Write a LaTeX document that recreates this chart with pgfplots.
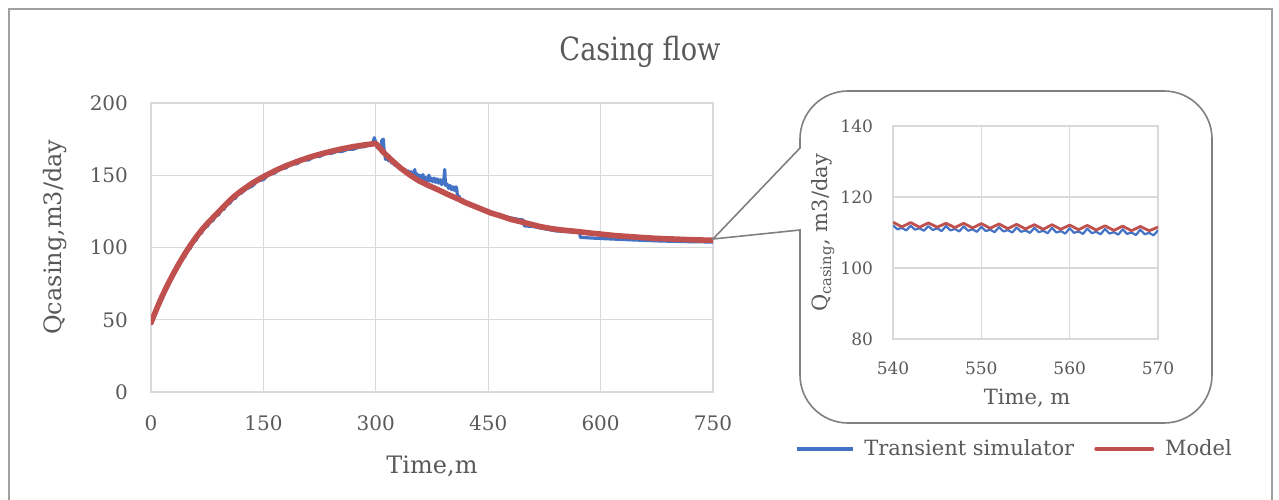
\documentclass[border=0pt]{standalone}
\usepackage{fontspec}
\setmainfont{DejaVu Serif}
\newfontfamily\titlefont[FakeStretch=0.85]{DejaVu Serif}
\usepackage{pgfplots}
\pgfplotsset{compat=1.18}
\definecolor{simblue}{RGB}{68,114,196}
\definecolor{modred}{RGB}{192,80,77}
\definecolor{txtgray}{RGB}{89,89,89}
\definecolor{gridgray}{RGB}{217,217,217}
\definecolor{callgray}{RGB}{128,128,128}
\definecolor{framegray}{RGB}{160,160,160}

\pgfplotstableread{
t v
0 47
4 52
7.5 56
11 61
15 64.5
19 70
22.5 73
26 78
30 80.5
34 86
37.5 87.5
41 92
45 93.5
49 98
52.5 99.5
56 104
60 105
64 109
67.5 110
71 114
75 114.5
79 118
82.5 118.5
86 122
90 122.5
94 126
97.5 126.5
101 130
105 130.5
109 133.5
112.5 134
116 137
120 137.5
127 140.5
135 142.5
142 146
150 147
157 150.5
165 151.5
172 154.5
180 155
187 158
195 158
202 160.5
210 160.5
218 163
225 163
233 165
240 165
248 166.5
255 166.5
263 168
270 168
278 169.5
285 169.8
291 171
296 172
298 176
300 172.5
302 169
304 170
306 168
308 174
310 175
311 168
313 161
315 162
317 160
319 161
321 158.5
323 159.5
325 157
327 158
329 155.5
331 156.5
333 154.5
335 155
337 152.5
339 154
341 152
343 153
345 150.5
347 152.5
349 150
351 151.5
352 154
353 149.5
355 151
357 148
359 150
361 147.5
363 150.5
364 146.5
366 148.5
368 146
370 149
371 150
372 146
374 148
376 145.5
378 148
380 145
382 147.5
384 144.5
386 147
388 143.5
390 146
391 148
392 154
393 143
395 144
397 141
399 143
401 140
403 142
405 139.5
407 142
408 141
409 134.5
411 135.5
413 133
415 133.5
418 131.5
420 131.5
425 129.5
430 128.5
440 126.5
450 125.5
460 123
470 121.5
480 120.5
490 119.5
497 119
498 115
510 114.5
525 113
540 111.5
555 111
572 110.5
573 107
590 106.5
610 106
640 105.3
680 104.5
720 104
750 103.8
}\simtable

\pgfplotstableread{
t v
0 48
7.5 57.5
15 66.5
22.5 74.5
30 82
37.5 89
45 95.5
52.5 101.5
60 107
67.5 112
75 116.5
82.5 120.5
90 124.5
97.5 128.5
105 132.5
112.5 136
120 139
135 144.5
150 149
165 153
180 156.5
195 159.5
210 162.2
225 164.5
240 166.5
255 168.3
270 169.8
285 171
300 172
310 166
320 161
333 155
346 150
358 146
370 143
383 140
395 137
408 134
420 131
439 127
453 124
466 122
480 119.5
500 117
519 114.5
535 113
550 112
570 111
586 110
605 109
620 108.2
640 107.5
653 107
675 106.3
700 105.8
725 105.3
750 105
}\modtable

\pgfplotstableread{
t v
540 112.0
540.5 110.9
541 111.3
541.5 110.6
542 111.9
542.5 110.8
543 111.2
543.5 110.5
544 111.8
544.5 110.7
545 111.2
545.5 110.4
546 111.8
546.5 110.6
547 111.0
547.5 110.3
548 111.7
548.5 110.5
549 110.9
549.5 110.2
550 111.6
550.5 110.4
551 110.8
551.5 110.1
552 111.5
552.5 110.3
553 110.7
553.5 110.0
554 111.4
554.5 110.2
555 110.6
555.5 109.9
556 111.3
556.5 110.1
557 110.5
557.5 109.8
558 111.3
558.5 110.0
559 110.4
559.5 109.7
560 111.2
560.5 109.9
561 110.3
561.5 109.6
562 111.1
562.5 109.8
563 110.2
563.5 109.5
564 111.0
564.5 109.7
565 110.1
565.5 109.4
566 110.9
566.5 109.6
567 110.0
567.5 109.3
568 110.8
568.5 109.5
569 109.9
569.5 109.2
570 110.6
}\simzoom

\pgfplotstableread{
t v
540 112.9
541 111.6
542 112.8
543 111.5
544 112.7
545 111.5
546 112.6
547 111.4
548 112.6
549 111.3
550 112.5
551 111.2
552 112.4
553 111.1
554 112.3
555 111.0
556 112.2
557 110.9
558 112.2
559 110.9
560 112.1
561 110.8
562 112.0
563 110.7
564 111.9
565 110.6
566 111.8
567 110.5
568 111.7
569 110.5
570 111.5
}\modzoom

\begin{document}
\begin{tikzpicture}
\useasboundingbox (0pt,0pt) rectangle (639.5pt,249.5pt);
\draw[framegray, line width=0.7pt] (4.5pt,-5pt) rectangle (636pt,245pt);
\node[txtgray, font=\titlefont\fontsize{16}{18}\selectfont] at (320pt,223.5pt) {Casing flow};

\begin{axis}[
  at={(75.5pt,53.5pt)}, anchor=south west,
  scale only axis, width=281pt, height=144.5pt,
  xmin=0, xmax=750, ymin=0, ymax=200,
  xtick={0,150,...,750}, ytick={0,50,...,200},
  grid=major, major grid style={gridgray, line width=0.6pt},
  axis line style={gridgray, line width=0.6pt},
  major tick length=0pt,
  tick label style={font=\fontsize{10}{12}\selectfont, text=txtgray},
  /pgf/number format/assume math mode=true,
  yticklabel style={xshift=-8pt},
  xticklabel style={yshift=-8.5pt},
  xlabel={Time,m}, ylabel={Qcasing,m3/day},
  label style={font=\fontsize{12}{14}\selectfont, text=txtgray},
  xlabel style={at={(axis description cs:0.5,-0.256)}, anchor=center},
  ylabel style={at={(axis description cs:-0.171,0.536)}, anchor=center},
  legend style={at={(axis description cs:1.134,-0.197)}, anchor=west, draw=none, fill=none,
    legend columns=2, font=\fontsize{10.5}{12}\selectfont, text=txtgray,
    /tikz/every even column/.append style={column sep=8pt}},
  legend image code/.code={\draw[#1, line width=2pt] (0pt,0pt) -- (28pt,0pt); \path (31pt,0pt);},
]
\addplot[simblue, line width=1.6pt, line join=round] table[x=t,y=v] {\simtable};
\addlegendentry{Transient simulator}
\addplot[modred, line width=2.8pt, line join=round, line cap=round] table[x=t,y=v] {\modtable};
\addlegendentry{Model}
\end{axis}

\draw[callgray, line width=0.8pt, fill=white]
  (400pt,175.5pt) -- (400pt,180pt) arc[start angle=180,end angle=90,radius=24pt]
  -- (582pt,204pt) arc[start angle=90,end angle=0,radius=24pt]
  -- (606pt,62pt) arc[start angle=0,end angle=-90,radius=24pt]
  -- (424pt,38pt) arc[start angle=270,end angle=180,radius=24pt]
  -- (400pt,134.5pt) -- (356.5pt,130pt) -- cycle;

\begin{axis}[
  at={(446.5pt,80pt)}, anchor=south west,
  scale only axis, width=132.5pt, height=106.5pt,
  xmin=540, xmax=570, ymin=80, ymax=140,
  xtick={540,550,560,570}, ytick={80,100,120,140},
  grid=major, major grid style={gridgray, line width=0.6pt},
  axis line style={gridgray, line width=0.6pt},
  major tick length=0pt,
  tick label style={font=\fontsize{8.5}{10}\selectfont, text=txtgray},
  /pgf/number format/assume math mode=true,
  yticklabel style={xshift=-6.5pt},
  xticklabel style={yshift=-8pt},
  xlabel={Time, m}, ylabel={Q\textsubscript{casing}, m3/day},
  label style={font=\fontsize{10.5}{12}\selectfont, text=txtgray},
  xlabel style={at={(axis description cs:0.506,-0.277)}, anchor=center},
  ylabel style={at={(axis description cs:-0.264,0.498)}, anchor=center},
]
\addplot[simblue, line width=1.1pt, line join=round] table[x=t,y=v] {\simzoom};
\addplot[modred, line width=1.4pt, line join=round] table[x=t,y=v] {\modzoom};
\end{axis}
\end{tikzpicture}
\end{document}
